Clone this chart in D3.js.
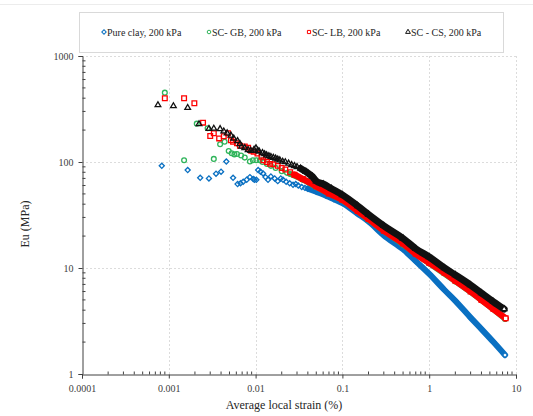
<!DOCTYPE html>
<html>
<head>
<meta charset="utf-8">
<script src="https://cdn.jsdelivr.net/npm/d3@7"></script>
<style>
  html, body { margin: 0; padding: 0; background: #fff; }
  svg { display: block; font-family: "Liberation Serif", "Times New Roman", serif; }
</style>
</head>
<body>
<div id="chart"></div>
<script>
// strain (%) vs Eu (MPa)
const seriesNames = ['Pure clay, 200 kPa', 'SC- GB, 200 kPa', 'SC- LB, 200 kPa', 'SC - CS, 200 kPa'];
const xTicks = [0.0001, 0.001, 0.01, 0.1, 1, 10];
const xTickLabels = ['0.0001', '0.001', '0.01', '0.1', '1', '10'];
const yTicks = [1, 10, 100, 1000];
const yTickLabels = ['1', '10', '100', '1000'];

// scattered early readings (markers only)
const clayPts = [[0.00083,92],[0.00165,84],[0.0023,71],[0.0029,70],[0.0035,77.5],[0.004,81],[0.0046,101],[0.0055,71],
  [0.0062,62],[0.0067,63],[0.0072,65],[0.0079,68],[0.0086,72],[0.0094,69],[0.0097,68],[0.0102,68],[0.0107,84],
  [0.0114,81],[0.0122,78],[0.013,72],[0.0139,68],[0.015,73],[0.0166,70],[0.018,66],[0.0195,70],[0.0207,68],
  [0.0225,65],[0.0247,63],[0.027,61],[0.029,62],[0.031,60],[0.034,58],[0.037,57]];
const gbPts = [[0.0009,451],[0.0015,104],[0.0021,230],[0.0028,208],[0.0033,107],[0.0039,147],[0.0044,155],[0.0049,127],
  [0.0053,121],[0.0057,118],[0.0061,119],[0.0068,115],[0.0075,110],[0.0086,101],[0.0093,104],[0.0102,104],
  [0.0112,104],[0.012,100],[0.0135,96],[0.015,92],[0.017,88],[0.02,82],[0.023,79]];
const lbPts = [[0.0009,400],[0.0015,400],[0.00197,358],[0.00248,235],[0.003,176],[0.0033,187],[0.0038,167],[0.0043,175],
  [0.0048,187],[0.0052,160],[0.0055,155],[0.0061,150],[0.0066,142],[0.0075,140],[0.0082,136],[0.0089,128],
  [0.0095,125],[0.0105,120],[0.0117,112],[0.0123,104],[0.0135,100],[0.0147,96],[0.016,95],[0.018,92],
  [0.02,88],[0.022,85],[0.025,80]];
const csPts = [[0.00075,345],[0.00113,337],[0.00165,325],[0.00223,228],[0.0029,206],[0.0033,207],[0.0039,205],[0.0043,195],
  [0.0047,187],[0.0052,178],[0.0056,167],[0.0062,158],[0.0066,148],[0.0069,140],[0.0075,136],[0.0082,130],
  [0.0088,128],[0.0096,131],[0.0101,135],[0.0106,128],[0.011,126],[0.012,122],[0.0127,119],[0.0134,116],
  [0.0142,114],[0.015,112],[0.016,110],[0.017,108],[0.018,106],[0.019,104],[0.0205,101],[0.022,100],
  [0.024,97],[0.026,94],[0.028,92],[0.03,90]];

// dense part of each record (markers so close they form a band)
const clayTrace = [[0.04,56],[0.05,52.5],[0.065,48],[0.08,44.5],[0.1,41],[0.15,32.5],[0.2,27.5],[0.3,20.3],[0.5,15],
  [0.7,11.6],[1,8.8],[1.5,6.2],[2,4.9],[3,3.4],[4,2.65],[5.5,2.0],[7.47,1.51]];
const gbTrace = [[0.025,77],[0.035,68],[0.05,58],[0.07,50.5],[0.1,43.5],[0.2,28.5],[0.5,16.6],[1,11],[2,7.45],[4,4.95],[7.5,3.3]];
const lbTrace = [[0.028,76],[0.035,69],[0.05,59],[0.07,50.5],[0.1,44],[0.15,34.5],[0.2,29],[0.3,22.5],[0.5,17],
  [0.7,13.6],[1,11.2],[1.5,9],[2,7.6],[3,6],[4,5],[5.5,4.1],[7.6,3.35]];
const csTrace = [[0.033,87],[0.038,81],[0.045,73],[0.05,66],[0.06,62],[0.075,56],[0.1,49],[0.15,38.5],[0.2,32],
  [0.3,25],[0.5,19],[0.7,15.2],[1,12.7],[1.5,10],[2,8.6],[3,6.9],[4,5.8],[5.5,4.8],[7.3,4.1]];

const W = 533, H = 416;
const svg = d3.select('#chart').append('svg').attr('width', W).attr('height', H);

const x = d3.scaleLog().domain([1e-4, 10]).range([82, 516]);
const y = d3.scaleLog().domain([1, 1000]).range([374, 56]);

// faint chart-area edge at the top
svg.append('line').attr('x1', 0).attr('x2', 533).attr('y1', 4.5).attr('y2', 4.5).attr('stroke', '#ececec');

// grid
const grid = svg.append('g').attr('stroke', '#dcdcdc').attr('stroke-dasharray', '2,2').attr('stroke-width', 1);
xTicks.slice(1).forEach(v => {
  grid.append('line').attr('x1', Math.round(x(v)) + 0.5).attr('x2', Math.round(x(v)) + 0.5)
    .attr('y1', y(1000)).attr('y2', y(1));
});
yTicks.slice(1).forEach(v => {
  grid.append('line').attr('y1', Math.round(y(v)) + 0.5).attr('y2', Math.round(y(v)) + 0.5)
    .attr('x1', x(1e-4)).attr('x2', x(10));
});

// minor ticks (inside)
const minor = [];
for (let e = -4; e < 1; e++) for (let m = 2; m <= 9; m++) minor.push(m * Math.pow(10, e));
const minorY = [];
for (let e = 0; e < 3; e++) for (let m = 2; m <= 9; m++) minorY.push(m * Math.pow(10, e));

const xAxis = svg.append('g').attr('transform', `translate(0,${y(1) + 0.5})`)
  .call(d3.axisBottom(x).tickValues(xTicks).tickFormat((d, i) => xTickLabels[i]).tickSize(4).tickPadding(6));
const yAxis = svg.append('g').attr('transform', `translate(${x(1e-4) + 0.5},0)`)
  .call(d3.axisLeft(y).tickValues(yTicks).tickFormat((d, i) => yTickLabels[i]).tickSize(4).tickPadding(5));
[xAxis, yAxis].forEach(a => {
  a.select('.domain').attr('stroke', '#404040');
  a.selectAll('.tick line').attr('stroke', '#404040');
  a.selectAll('.tick text').attr('fill', '#404040').style('font-size', '10px')
    .style('font-family', '"Liberation Serif", "Times New Roman", serif');
});
xAxis.selectAll('.minor').data(minor).join('line').attr('class', 'minor')
  .attr('x1', d => x(d)).attr('x2', d => x(d)).attr('y1', 0).attr('y2', -3).attr('stroke', '#404040');
yAxis.selectAll('.minor').data(minorY).join('line').attr('class', 'minor')
  .attr('y1', d => y(d)).attr('y2', d => y(d)).attr('x1', 0).attr('x2', 3).attr('stroke', '#404040');

// axis titles
svg.append('text').attr('x', 284).attr('y', 409).attr('text-anchor', 'middle')
  .attr('font-size', 12).attr('fill', '#262626').text('Average local strain (%)');
svg.append('text').attr('transform', 'translate(29,224) rotate(-90)').attr('text-anchor', 'middle')
  .attr('font-size', 12).attr('fill', '#262626').text('Eu (MPa)');

// series
const colors = ['#0a70c2', '#2fb45a', '#ff0000', '#111111'];
const shapes = [d3.symbolSquare, d3.symbolCircle, d3.symbolSquare, d3.symbolTriangle];
const rotate = [45, 0, 0, 0];
const sizes = [13, 18, 22, 14];
const widths = [6, 5.5, 6.5, 7];
const pts = [clayPts, gbPts, lbPts, csPts];
const traces = [clayTrace, gbTrace, lbTrace, csTrace];

const line = d3.line().x(d => x(d[0])).y(d => y(d[1])).curve(d3.curveMonotoneX);
const plot = svg.append('g');

seriesNames.forEach((name, i) => {
  const g = plot.append('g');
  const sym = d3.symbol().type(shapes[i]).size(sizes[i]);
  const all = pts[i].concat(traces[i]);
  g.append('path').datum(traces[i]).attr('d', line)
    .attr('fill', 'none').attr('stroke', colors[i]).attr('stroke-width', widths[i])
    .attr('stroke-linecap', 'round').attr('stroke-linejoin', 'round');
  g.selectAll('path.pt').data(all).join('path').attr('class', 'pt')
    .attr('transform', d => `translate(${x(d[0])},${y(d[1])}) rotate(${rotate[i]})`)
    .attr('d', sym)
    .attr('fill', (d, k) => k === all.length - 1 ? '#fff' : 'none')
    .attr('stroke', colors[i]).attr('stroke-width', 1.3);
});

// legend
const legend = svg.append('g');
legend.append('rect').attr('x', 79.5).attr('y', 12.5).attr('width', 424).attr('height', 40)
  .attr('fill', '#fff').attr('stroke', '#d9d9d9');
const legendX = [104, 209, 309, 408];
seriesNames.forEach((name, i) => {
  legend.append('path').attr('transform', `translate(${legendX[i]},32) rotate(${rotate[i]})`)
    .attr('d', d3.symbol().type(shapes[i]).size(10))
    .attr('fill', 'none').attr('stroke', colors[i]).attr('stroke-width', 1);
  legend.append('text').attr('x', legendX[i] + 3).attr('y', 35.5)
    .attr('font-size', 10).attr('fill', '#262626').text(name);
});
</script>
</body>
</html>
